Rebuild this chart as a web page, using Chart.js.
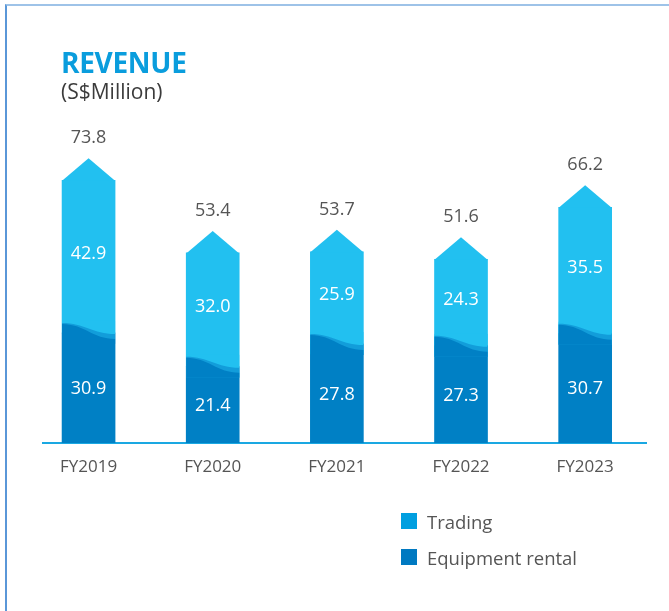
<!DOCTYPE html>
<html>
<head>
<meta charset="utf-8">
<script src="https://cdn.jsdelivr.net/npm/chart.js@4.4.0/dist/chart.umd.min.js"></script>
<style>
  html, body { margin: 0; padding: 0; background: #fff; }
  body { width: 669px; height: 611px; position: relative; overflow: hidden; font-family: "Open Sans", sans-serif; }
  #frame { position: absolute; left: 5px; top: 4px; right: -10px; bottom: -10px;
           border-left: 2px solid #5a97d8; border-top: 2px solid #9ec3e8; }
  #title { position: absolute; left: 61px; top: 44px; font-size: 28px; font-weight: 700; color: #0a9ddd; line-height: 36px; letter-spacing: -0.3px; }
  #subtitle { position: absolute; left: 61px; top: 77px; font-size: 21px; color: #3b3b3b; line-height: 28px; }
  #chart { position: absolute; left: 0; top: 0; }
  #legend { position: absolute; left: 401px; top: 503px; }
  .li { display: flex; align-items: center; height: 36px; font-size: 18.5px; color: #555; }
  .sw { width: 16px; height: 16px; margin-right: 10px; }
</style>
</head>
<body>
<div id="frame"></div>
<canvas id="chart" width="669" height="611"></canvas>
<div id="title">REVENUE</div>
<div id="subtitle">(S$Million)</div>
<div id="legend"></div>
<script>
const categories = ["FY2019", "FY2020", "FY2021", "FY2022", "FY2023"];
const equipmentRental = [30.9, 21.4, 27.8, 27.3, 30.7];
const trading = [42.9, 32.0, 25.9, 24.3, 35.5];
const totals = [73.8, 53.4, 53.7, 51.6, 66.2];

const LIGHT = "#22c0f0";
const DARK = "#0080c5";
const MID = "#129dda";

const decor = {
  id: "decor",
  afterDatasetsDraw(chart) {
    const ctx = chart.ctx;
    const mDark = chart.getDatasetMeta(0);
    const mLight = chart.getDatasetMeta(1);
    ctx.save();
    mLight.data.forEach((L, i) => {
      const D = mDark.data[i];
      const w = L.width;
      const x0 = L.x - w / 2, x1 = L.x + w / 2;
      // arrow head
      ctx.fillStyle = LIGHT;
      ctx.beginPath();
      ctx.moveTo(x0, L.y + 0.5);
      ctx.lineTo(L.x, L.y - 22);
      ctx.lineTo(x1, L.y + 0.5);
      ctx.closePath();
      ctx.fill();
      // wave boundary
      const y = D.y;
      ctx.fillStyle = LIGHT;
      ctx.fillRect(x0, y - 12, w, 22);
      const wave = (yl, yr, color) => {
        ctx.fillStyle = color;
        ctx.beginPath();
        ctx.moveTo(x0, y + 11);
        ctx.lineTo(x0, yl);
        ctx.bezierCurveTo(x0 + 0.42 * w, yl, x0 + 0.58 * w, yr, x1, yr);
        ctx.lineTo(x1, y + 11);
        ctx.closePath();
        ctx.fill();
      };
      wave(y - 10, y + 1, MID);
      wave(y - 9, y + 6, DARK);
      // values
      ctx.fillStyle = "#fff";
      ctx.font = '18px "Open Sans"';
      ctx.textAlign = "center";
      ctx.textBaseline = "middle";
      ctx.fillText(equipmentRental[i].toFixed(1), D.x, (D.y + D.base) / 2 + 1);
      ctx.fillText(trading[i].toFixed(1), L.x, (L.y + L.base) / 2 - 3);
      ctx.fillStyle = "#555";
      ctx.fillText(totals[i].toFixed(1), L.x, L.y - 42);
    });
    ctx.restore();
  }
};

const chart = new Chart(document.getElementById("chart"), {
  type: "bar",
  data: {
    datasets: [
      { label: "Equipment rental", data: equipmentRental.map((v, i) => ({ x: i, y: v })), backgroundColor: DARK, legendColor: "#0079c1" },
      { label: "Trading", data: trading.map((v, i) => ({ x: i, y: v })), backgroundColor: LIGHT, legendColor: "#009fe0" }
    ]
  },
  options: {
    responsive: false,
    animation: false,
    layout: { padding: { left: 43, right: 23, top: 87, bottom: 0 } },
    datasets: { bar: { barThickness: 53 } },
    plugins: { legend: { display: false }, tooltip: { enabled: false } },
    scales: {
      x: {
        type: "linear", stacked: true, min: -0.367, max: 4.49, offset: false,
        grid: { display: false, drawTicks: false, offset: false },
        border: { display: true, color: "#1aa8e2", width: 2 },
        afterFit: (a) => { a.height = 168; },
        afterBuildTicks: (a) => { a.ticks = categories.map((c, i) => ({ value: i })); },
        ticks: { padding: 14, color: "#555", font: { family: "Open Sans", size: 17 },
                 callback: (v) => categories[v] }
      },
      y: { stacked: true, display: false, min: 0, max: 100 }
    }
  },
  plugins: [decor]
});

const legend = document.getElementById("legend");
[...chart.data.datasets].reverse().forEach(ds => {
  const row = document.createElement("div");
  row.className = "li";
  const sw = document.createElement("div");
  sw.className = "sw";
  sw.style.background = ds.legendColor;
  row.appendChild(sw);
  row.appendChild(document.createTextNode(ds.label));
  legend.appendChild(row);
});
</script>
</body>
</html>
